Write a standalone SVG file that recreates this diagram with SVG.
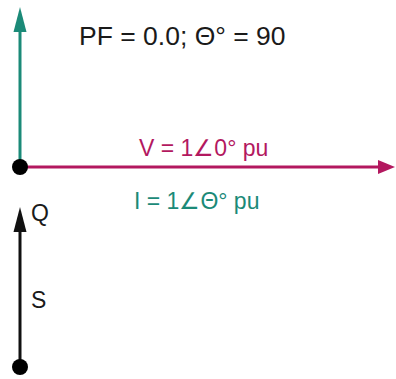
<svg xmlns="http://www.w3.org/2000/svg" width="396" height="379" viewBox="0 0 396 379">
<style>
text{font-family:"Liberation Sans",Arial,sans-serif;}
.t{font-size:26.5px;fill:#1a1a1a;}
.l{font-size:23px;}
.v{fill:#b3185f;}
.i{fill:#1b8a78;}
.k{fill:#1a1a1a;}
</style>
<rect width="396" height="379" fill="#fff"/>
<g id="connectors">
<line x1="20" y1="167" x2="20" y2="30" stroke="#1b8a78" stroke-width="3"/>
<polygon points="20,7 13.5,32 26.5,32" fill="#1b8a78"/>
<line x1="20" y1="167" x2="380" y2="167" stroke="#b3185f" stroke-width="3"/>
<polygon points="395,167 378,160 378,174" fill="#b3185f"/>
<line x1="20" y1="367" x2="20" y2="230" stroke="#111" stroke-width="3"/>
<polygon points="20,207 13.5,232 26.5,232" fill="#111"/>
</g>
<g id="origin"><circle cx="20" cy="167" r="8" fill="#000"/></g>
<g id="s-origin"><circle cx="20" cy="367" r="8" fill="#000"/></g>
<g id="title"><text class="t" x="79" y="45">PF = 0.0; Θ° = 90</text></g>
<g id="v-label"><text class="l v" x="139" y="156">V = 1∠0° pu</text></g>
<g id="i-label"><text class="l i" x="134" y="209">I = 1∠Θ° pu</text></g>
<g id="q-label"><text class="l k" x="31" y="221">Q</text></g>
<g id="s-label"><text class="l k" x="31" y="308">S</text></g>
</svg>
